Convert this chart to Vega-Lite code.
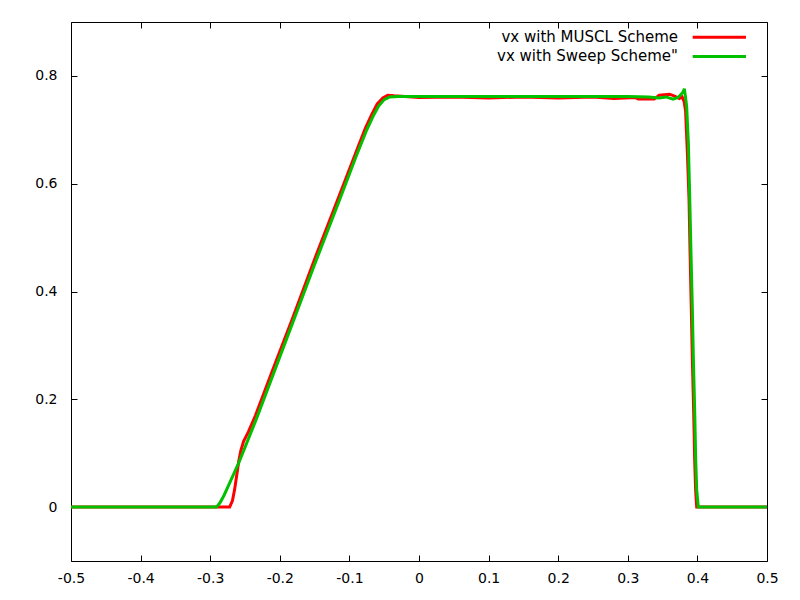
{
  "$schema": "https://vega.github.io/schema/vega-lite/v6.json",
  "autosize": "none",
  "width": 696,
  "height": 539,
  "padding": {"left": 71, "top": 22, "right": 33, "bottom": 39},
  "background": "white",
  "config": {
    "view": {"stroke": "black", "strokeWidth": 1},
    "font": "DejaVu Sans",
    "axis": {"labelFont": "DejaVu Sans", "labelFontSize": 14, "labelColor": "black", "tickColor": "black", "domain": false, "grid": false, "title": null, "labelFlush": false}
  },
  "datasets": {
    "curves": [
      {"series": "MUSCL", "x": -0.5, "y": 0},
      {"series": "MUSCL", "x": -0.272, "y": 0},
      {"series": "MUSCL", "x": -0.268, "y": 0.012},
      {"series": "MUSCL", "x": -0.265, "y": 0.032},
      {"series": "MUSCL", "x": -0.262, "y": 0.058},
      {"series": "MUSCL", "x": -0.259, "y": 0.085},
      {"series": "MUSCL", "x": -0.256, "y": 0.105},
      {"series": "MUSCL", "x": -0.252, "y": 0.122},
      {"series": "MUSCL", "x": -0.245, "y": 0.14},
      {"series": "MUSCL", "x": -0.235, "y": 0.17},
      {"series": "MUSCL", "x": -0.21, "y": 0.255},
      {"series": "MUSCL", "x": -0.1826, "y": 0.347},
      {"series": "MUSCL", "x": -0.15, "y": 0.46},
      {"series": "MUSCL", "x": -0.1155, "y": 0.575},
      {"series": "MUSCL", "x": -0.09, "y": 0.66},
      {"series": "MUSCL", "x": -0.077, "y": 0.703},
      {"series": "MUSCL", "x": -0.068, "y": 0.728},
      {"series": "MUSCL", "x": -0.06, "y": 0.748},
      {"series": "MUSCL", "x": -0.052, "y": 0.759},
      {"series": "MUSCL", "x": -0.045, "y": 0.764},
      {"series": "MUSCL", "x": -0.036, "y": 0.763},
      {"series": "MUSCL", "x": -0.02, "y": 0.762},
      {"series": "MUSCL", "x": 0.0, "y": 0.76},
      {"series": "MUSCL", "x": 0.05, "y": 0.761},
      {"series": "MUSCL", "x": 0.1, "y": 0.759},
      {"series": "MUSCL", "x": 0.15, "y": 0.761},
      {"series": "MUSCL", "x": 0.2, "y": 0.759},
      {"series": "MUSCL", "x": 0.25, "y": 0.761},
      {"series": "MUSCL", "x": 0.28, "y": 0.758},
      {"series": "MUSCL", "x": 0.31, "y": 0.76},
      {"series": "MUSCL", "x": 0.315, "y": 0.757},
      {"series": "MUSCL", "x": 0.338, "y": 0.757},
      {"series": "MUSCL", "x": 0.345, "y": 0.764},
      {"series": "MUSCL", "x": 0.36, "y": 0.766},
      {"series": "MUSCL", "x": 0.368, "y": 0.762},
      {"series": "MUSCL", "x": 0.374, "y": 0.758},
      {"series": "MUSCL", "x": 0.378, "y": 0.761},
      {"series": "MUSCL", "x": 0.381, "y": 0.752},
      {"series": "MUSCL", "x": 0.383, "y": 0.735},
      {"series": "MUSCL", "x": 0.3855, "y": 0.66},
      {"series": "MUSCL", "x": 0.388, "y": 0.57},
      {"series": "MUSCL", "x": 0.3895, "y": 0.47},
      {"series": "MUSCL", "x": 0.3912, "y": 0.37},
      {"series": "MUSCL", "x": 0.3927, "y": 0.277},
      {"series": "MUSCL", "x": 0.3946, "y": 0.18},
      {"series": "MUSCL", "x": 0.3961, "y": 0.087},
      {"series": "MUSCL", "x": 0.3975, "y": 0.03},
      {"series": "MUSCL", "x": 0.399, "y": 0},
      {"series": "MUSCL", "x": 0.5, "y": 0},
      {"series": "Sweep", "x": -0.5, "y": 0},
      {"series": "Sweep", "x": -0.291, "y": 0},
      {"series": "Sweep", "x": -0.286, "y": 0.008},
      {"series": "Sweep", "x": -0.28, "y": 0.022},
      {"series": "Sweep", "x": -0.273, "y": 0.042},
      {"series": "Sweep", "x": -0.266, "y": 0.062},
      {"series": "Sweep", "x": -0.258, "y": 0.085},
      {"series": "Sweep", "x": -0.2332, "y": 0.165},
      {"series": "Sweep", "x": -0.1806, "y": 0.345},
      {"series": "Sweep", "x": -0.15, "y": 0.45},
      {"series": "Sweep", "x": -0.1135, "y": 0.572},
      {"series": "Sweep", "x": -0.09, "y": 0.652},
      {"series": "Sweep", "x": -0.075, "y": 0.7},
      {"series": "Sweep", "x": -0.066, "y": 0.725},
      {"series": "Sweep", "x": -0.058, "y": 0.744},
      {"series": "Sweep", "x": -0.05, "y": 0.756},
      {"series": "Sweep", "x": -0.042, "y": 0.761},
      {"series": "Sweep", "x": -0.03, "y": 0.762},
      {"series": "Sweep", "x": 0.0, "y": 0.762},
      {"series": "Sweep", "x": 0.1, "y": 0.762},
      {"series": "Sweep", "x": 0.2, "y": 0.762},
      {"series": "Sweep", "x": 0.3, "y": 0.762},
      {"series": "Sweep", "x": 0.33, "y": 0.761},
      {"series": "Sweep", "x": 0.345, "y": 0.759},
      {"series": "Sweep", "x": 0.355, "y": 0.761},
      {"series": "Sweep", "x": 0.365, "y": 0.757},
      {"series": "Sweep", "x": 0.372, "y": 0.76},
      {"series": "Sweep", "x": 0.376, "y": 0.765},
      {"series": "Sweep", "x": 0.3795, "y": 0.77},
      {"series": "Sweep", "x": 0.3812, "y": 0.776},
      {"series": "Sweep", "x": 0.3828, "y": 0.762},
      {"series": "Sweep", "x": 0.3846, "y": 0.743},
      {"series": "Sweep", "x": 0.387, "y": 0.676},
      {"series": "Sweep", "x": 0.389, "y": 0.573},
      {"series": "Sweep", "x": 0.3908, "y": 0.471},
      {"series": "Sweep", "x": 0.3927, "y": 0.371},
      {"series": "Sweep", "x": 0.3942, "y": 0.277},
      {"series": "Sweep", "x": 0.3961, "y": 0.18},
      {"series": "Sweep", "x": 0.3976, "y": 0.087},
      {"series": "Sweep", "x": 0.399, "y": 0.032},
      {"series": "Sweep", "x": 0.4013, "y": 0},
      {"series": "Sweep", "x": 0.5, "y": 0}
    ],
    "legend": [
      {"series": "MUSCL", "label": "vx with MUSCL Scheme", "tx": 0.3721, "x1": 0.3932, "x2": 0.4698, "y": 0.8718},
      {"series": "Sweep", "label": "vx with Sweep Scheme\"", "tx": 0.3721, "x1": 0.3932, "x2": 0.4698, "y": 0.8362}
    ]
  },
  "layer": [
    {
      "data": {"name": "curves"},
      "transform": [{"filter": "datum.series == 'MUSCL'"}],
      "mark": {"type": "line", "strokeWidth": 3, "interpolate": "linear"},
      "encoding": {
        "x": {"field": "x", "type": "quantitative", "scale": {"domain": [-0.5, 0.5], "nice": false, "zero": false},
          "axis": {"orient": "bottom", "values": [-0.5, -0.4, -0.3, -0.2, -0.1, 0, 0.1, 0.2, 0.3, 0.4, 0.5], "tickSize": -6, "labelPadding": 16, "labelExpr": "toString(round(datum.value*10)/10)"}},
        "y": {"field": "y", "type": "quantitative", "scale": {"domain": [-0.1, 0.9], "nice": false, "zero": false},
          "axis": {"orient": "left", "values": [0, 0.2, 0.4, 0.6, 0.8], "tickSize": -6, "labelPadding": 20, "labelExpr": "toString(round(datum.value*10)/10)"}},
        "color": {"field": "series", "type": "nominal", "scale": {"domain": ["MUSCL", "Sweep"], "range": ["#ff0000", "#00c000"]}, "legend": null}
      }
    },
    {
      "data": {"name": "curves"},
      "transform": [{"filter": "datum.series == 'Sweep'"}],
      "mark": {"type": "line", "strokeWidth": 3, "interpolate": "linear"},
      "encoding": {
        "x": {"field": "x", "type": "quantitative",
          "axis": {"orient": "top", "values": [-0.5, -0.4, -0.3, -0.2, -0.1, 0, 0.1, 0.2, 0.3, 0.4, 0.5], "tickSize": -6, "labels": false}},
        "y": {"field": "y", "type": "quantitative",
          "axis": {"orient": "right", "values": [0, 0.2, 0.4, 0.6, 0.8], "tickSize": -6, "labels": false}},
        "color": {"field": "series", "type": "nominal", "legend": null}
      }
    },
    {
      "data": {"name": "legend"},
      "mark": {"type": "text", "align": "right", "baseline": "middle", "font": "DejaVu Sans", "fontSize": 15, "color": "black"},
      "encoding": {
        "x": {"field": "tx", "type": "quantitative", "axis": null},
        "y": {"field": "y", "type": "quantitative", "axis": null},
        "text": {"field": "label"}
      }
    },
    {
      "data": {"name": "legend"},
      "mark": {"type": "rule", "strokeWidth": 3},
      "encoding": {
        "x": {"field": "x1", "type": "quantitative", "axis": null},
        "x2": {"field": "x2"},
        "y": {"field": "y", "type": "quantitative", "axis": null},
        "color": {"field": "series", "type": "nominal", "legend": null}
      }
    }
  ]
}
